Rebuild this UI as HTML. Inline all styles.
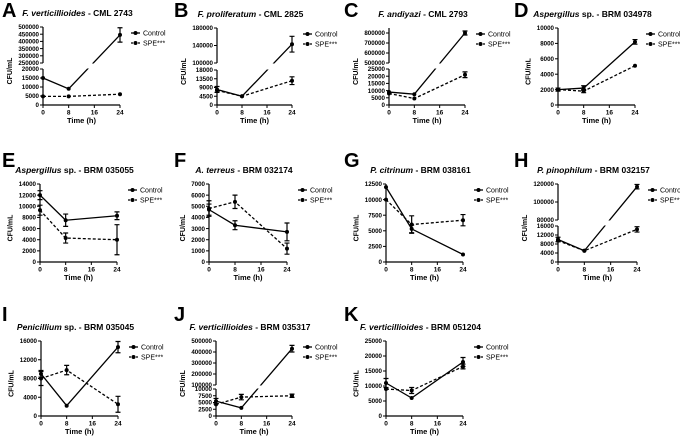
<!DOCTYPE html>
<html><head><meta charset="utf-8"><style>
html,body{margin:0;padding:0;background:#fff;}
svg{display:block;font-family:"Liberation Sans",Arial,sans-serif;}
</style></head><body>
<svg id="fig" width="680" height="437" viewBox="0 0 680 437"></svg>
<script>
const times = [0, 8, 24];
const xTicks = [0, 8, 16, 24];
const A_ctrl = [15000, 9000, 445000], A_ctrlErr = [0, 0, 50000], A_spe = [4800, 4800, 6000], A_speErr = [0, 0, 0];
const B_ctrl = [8000, 4500, 143000], B_ctrlErr = [1500, 0, 18000], B_spe = [7500, 4500, 12500], B_speErr = [0, 0, 2000];
const C_ctrl = [9000, 7500, 800000], C_ctrlErr = [0, 0, 20000], C_spe = [8000, 4500, 21000], C_speErr = [0, 0, 2000];
const D_ctrl = [2000, 2200, 8200], D_ctrlErr = [200, 300, 300], D_spe = [2000, 1800, 5100], D_speErr = [0, 200, 0];
const E_ctrl = [12000, 7500, 8300], E_ctrlErr = [800, 1100, 700], E_spe = [9300, 4300, 4000], E_speErr = [900, 900, 2700];
const F_ctrl = [4700, 3300, 2700], F_ctrlErr = [500, 400, 800], F_spe = [4800, 5400, 1200], F_speErr = [700, 600, 500];
const G_ctrl = [12000, 5300, 1200], G_ctrlErr = [0, 600, 0], G_spe = [10000, 6000, 6700], G_speErr = [0, 1400, 900];
const H_ctrl = [10000, 5000, 117000], H_ctrlErr = [1000, 0, 2500], H_spe = [9500, 5000, 14500], H_speErr = [0, 0, 1200];
const I_ctrl = [9000, 2200, 14700], I_ctrlErr = [700, 0, 1200], I_spe = [8000, 9800, 2500], I_speErr = [1500, 1000, 1700];
const J_ctrl = [5500, 3000, 430000], J_ctrlErr = [1000, 0, 30000], J_spe = [4300, 7000, 7500], J_speErr = [0, 1000, 600];
const K_ctrl = [11000, 6000, 18000], K_ctrlErr = [1500, 0, 1500], K_spe = [9000, 8500, 16500], K_speErr = [0, 1000, 800];
const A_lowTicks=[0,5000,10000,15000,20000], A_upTicks=[250000,300000,350000,400000,450000,500000];
const B_lowTicks=[0,4500,9000,13500,18000], B_upTicks=[100000,140000,180000];
const C_lowTicks=[0,5000,10000,15000,20000,25000], C_upTicks=[500000,600000,700000,800000];
const D_ticks=[0,2000,4000,6000,8000,10000];
const E_ticks=[0,2000,4000,6000,8000,10000,12000,14000];
const F_ticks=[0,1000,2000,3000,4000,5000,6000,7000];
const G_ticks=[0,2500,5000,7500,10000,12500];
const H_lowTicks=[0,4000,8000,12000,16000], H_upTicks=[80000,100000,120000];
const I_ticks=[0,4000,8000,12000,16000];
const J_lowTicks=[0,2500,5000,7500,10000], J_upTicks=[100000,200000,300000,400000,500000];
const K_ticks=[0,5000,10000,15000,20000,25000];

const NS="http://www.w3.org/2000/svg";
const svg=document.getElementById('fig');
function mk(tag,attrs,parent){const e=document.createElementNS(NS,tag);for(const k in attrs)e.setAttribute(k,attrs[k]);(parent||svg).appendChild(e);return e;}

const panels=[
 {id:'A',sp:'F. verticillioides',rest:' - CML 2743',x0:43,x1:120,top:27,bot:105,low:[0,20000,69],up:[250000,500000,63],lt:A_lowTicks,ut:A_upTicks,c:A_ctrl,ce:A_ctrlErr,s:A_spe,se:A_speErr,lab:[2,9]},
 {id:'B',sp:'F. proliferatum',rest:' - CML 2825',x0:217,x1:292,top:28,bot:105,low:[0,18000,70],up:[100000,180000,63],lt:B_lowTicks,ut:B_upTicks,c:B_ctrl,ce:B_ctrlErr,s:B_spe,se:B_speErr,lab:[174,9]},
 {id:'C',sp:'F. andiyazi',rest:' - CML 2793',x0:389,x1:465,top:28,bot:105,low:[0,25000,69],up:[500000,850000,63],lt:C_lowTicks,ut:C_upTicks,c:C_ctrl,ce:C_ctrlErr,s:C_spe,se:C_speErr,lab:[344,9]},
 {id:'D',sp:'Aspergillus',rest:' sp. - BRM 034978',x0:558,x1:635,top:28,bot:105,low:[0,10000,28],lt:D_ticks,c:D_ctrl,ce:D_ctrlErr,s:D_spe,se:D_speErr,lab:[514,9]},
 {id:'E',sp:'Aspergillus',rest:' sp. - BRM 035055',x0:40,x1:117,top:184,bot:262,low:[0,14000,184],lt:E_ticks,c:E_ctrl,ce:E_ctrlErr,s:E_spe,se:E_speErr,lab:[2,159]},
 {id:'F',sp:'A. terreus',rest:' - BRM 032174',x0:209,x1:287,top:184,bot:262,low:[0,7000,184],lt:F_ticks,c:F_ctrl,ce:F_ctrlErr,s:F_spe,se:F_speErr,lab:[174,159]},
 {id:'G',sp:'P. citrinum',rest:' - BRM 038161',x0:386,x1:463,top:184,bot:262,low:[0,12500,184],lt:G_ticks,c:G_ctrl,ce:G_ctrlErr,s:G_spe,se:G_speErr,lab:[344,159]},
 {id:'H',sp:'P. pinophilum',rest:' - BRM 032157',x0:558,x1:637,top:184,bot:262,low:[0,16000,226],up:[80000,120000,220],lt:H_lowTicks,ut:H_upTicks,c:H_ctrl,ce:H_ctrlErr,s:H_spe,se:H_speErr,lab:[514,159]},
 {id:'I',sp:'Penicillium',rest:' sp. - BRM 035045',x0:41,x1:118,top:341,bot:416,low:[0,16000,341],lt:I_ticks,c:I_ctrl,ce:I_ctrlErr,s:I_spe,se:I_speErr,lab:[2,313]},
 {id:'J',sp:'F. verticillioides',rest:' - BRM 035317',x0:216,x1:292,top:341,bot:416,low:[0,10000,389],up:[100000,500000,385],lt:J_lowTicks,ut:J_upTicks,c:J_ctrl,ce:J_ctrlErr,s:J_spe,se:J_speErr,lab:[174,313]},
 {id:'K',sp:'F. verticillioides',rest:' - BRM 051204',x0:386,x1:463,top:341,bot:416,low:[0,25000,341],lt:K_ticks,c:K_ctrl,ce:K_ctrlErr,s:K_spe,se:K_speErr,lab:[344,313]}
];

panels.forEach(p=>{
 const g=mk('g',{});
 
 
 const xs=v=>p.x0+(v-0)/(24-0)*(p.x1-p.x0);
 const ys=v=>{
  if(p.up&&v>=p.up[0]) return p.up[2]-(v-p.up[0])/(p.up[1]-p.up[0])*(p.up[2]-p.top);
  return p.bot-(v-p.low[0])/(p.low[1]-p.low[0])*(p.bot-p.low[2]);
 };
 const L=mk('text',{x:p.lab[0],y:p.lab[1]+8,'font-size':20,'font-weight':'bold',fill:'#000'},g);
 L.textContent=p.id;
 
 
 const T=mk('text',{x:(p.x0+p.x1)/2-4,y:p.top-11,'font-size':8.5,'font-weight':'bold','text-anchor':'middle',fill:'#000'},g);
 
 
 const t1=mk('tspan',{'font-style':'italic'},T);t1.textContent=p.sp;
 const t2=mk('tspan',{},T);t2.textContent=p.rest;
 const ax={stroke:'#000','stroke-width':1.2,fill:'none'};
 const yAxLow=mk('line',Object.assign({x1:p.x0,x2:p.x0,y1:p.bot,y2:p.low[2]},ax),g);
 
 
 if(p.up){
  const yAxUp=mk('line',Object.assign({x1:p.x0,x2:p.x0,y1:p.up[2],y2:p.top},ax),g);
  
  
 }
 const xAx=mk('line',Object.assign({x1:p.x0,x2:p.x1,y1:p.bot,y2:p.bot},ax),g);
 
 
 const allT=(p.lt||[]).concat(p.ut||[]);
 let maxLen=0;
 allT.forEach(v=>{
  const y=ys(v);
  mk('line',{x1:p.x0-3,x2:p.x0,y1:y,y2:y,stroke:'#000','stroke-width':1},g);
  const tl=mk('text',{x:p.x0-4,y:y+2.2,'font-size':6.2,'font-weight':'bold','text-anchor':'end',fill:'#000'},g);
  tl.textContent=String(v);
  
  
  maxLen=Math.max(maxLen,String(v).length);
 });
 xTicks.forEach(v=>{
  const x=xs(v);
  mk('line',{x1:x,x2:x,y1:p.bot,y2:p.bot+3,stroke:'#000','stroke-width':1},g);
  const tl=mk('text',{x:x,y:p.bot+9.5,'font-size':6.5,'font-weight':'bold','text-anchor':'middle',fill:'#000'},g);
  tl.textContent=String(v);
  
  
 });
 const xt=mk('text',{x:(p.x0+p.x1)/2,y:p.bot+18,'font-size':7.5,'font-weight':'bold','text-anchor':'middle',fill:'#000'},g);
 xt.textContent='Time (h)';
 
 
 const tx=p.x0-6-maxLen*3.5-4, ty=(p.top+p.bot)/2+5;
 const yt=mk('text',{x:tx,y:ty,'font-size':7,'font-weight':'bold','text-anchor':'middle',fill:'#000',transform:`rotate(-90 ${tx} ${ty})`},g);
 yt.textContent='CFU/mL';
 
 
 const series=[{v:p.s,e:p.se,dash:'3,2',name:'spe'},{v:p.c,e:p.ce,dash:null,name:'control'}];
 series.forEach(s=>{
  const pts=times.map((t,i)=>[xs(t),ys(s.v[i])]);
  const ln=mk('polyline',{points:pts.map(q=>q.join(',')).join(' '),fill:'none',stroke:'#000','stroke-width':1.3},g);
  if(s.dash) ln.setAttribute('stroke-dasharray',s.dash);
  
  
  times.forEach((t,i)=>{
   const x=xs(t);
   if(s.e[i]>0){
    const y1=ys(s.v[i]-s.e[i]),y2=ys(s.v[i]+s.e[i]);
    const eb=mk('path',{d:`M${x},${y1}V${y2}M${x-2.5},${y1}H${x+2.5}M${x-2.5},${y2}H${x+2.5}`,stroke:'#000','stroke-width':1.2,fill:'none'},g);
    
    
   }
   const m=mk('circle',{cx:x,cy:ys(s.v[i]),r:2,fill:'#000'},g);
   
   
  });
 });
 if(p.up){
  const br=mk('rect',{x:p.x0+1,y:p.up[2]+0.5,width:p.x1-p.x0+6,height:p.low[2]-p.up[2]-1,fill:'#fff'},g);
  
  
 }
 const lx=p.x1+11, ly=p.top+6;
 [['Control',null],['SPE***','2,1.5']].forEach((it,k)=>{
  const y=ly+k*10;
  const lg=mk('g',{},g);
  
  
  const l=mk('line',{x1:lx,x2:lx+9,y1:y,y2:y,stroke:'#000','stroke-width':1.3},lg);
  if(it[1]) l.setAttribute('stroke-dasharray',it[1]);
  mk('circle',{cx:lx+4.5,cy:y,r:2,fill:'#000'},lg);
  const tt=mk('text',{x:lx+12,y:y+2.5,'font-size':7,fill:'#000'},lg);
  tt.textContent=it[0];
 });
});
</script>
</body></html>
